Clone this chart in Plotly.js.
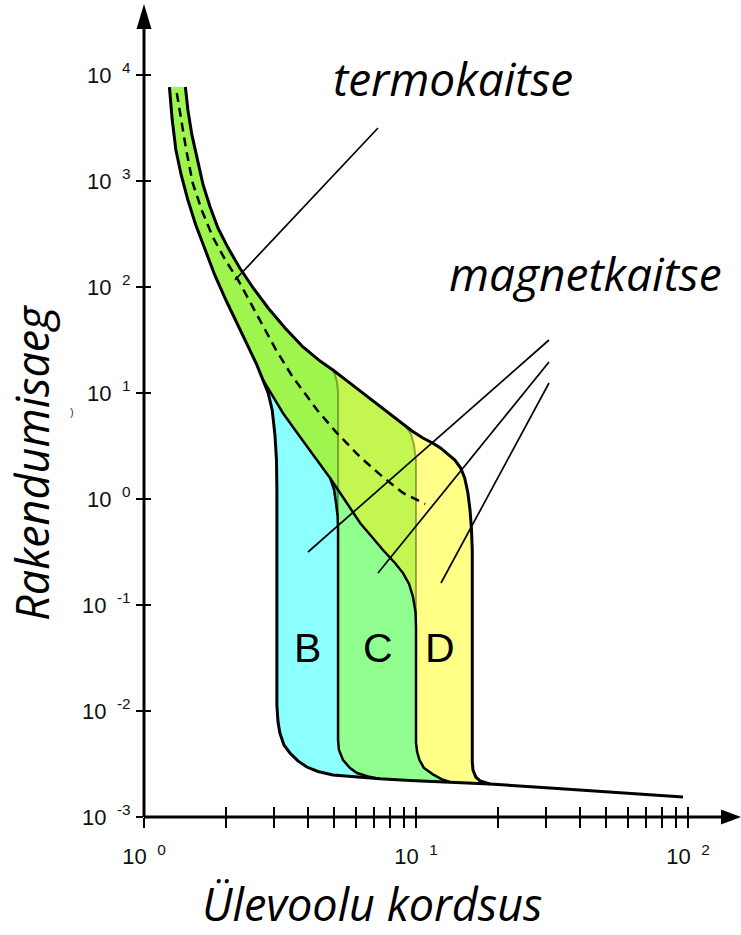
<!DOCTYPE html>
<html>
<head>
<meta charset="utf-8">
<script src="https://cdn.plot.ly/plotly-3.0.1.min.js"></script>
<style>
  html, body { margin: 0; padding: 0; background: #fff; }
  #chart { width: 741px; height: 935px; }
</style>
</head>
<body>
<div id="chart"></div>
<script>
// ---- Tripping characteristic data (overcurrent multiple I/In, time in seconds) ----

// Thermal release: lower limit of the band (shared part, from the top)
const thermLowX = [1.24, 1.27, 1.31, 1.37, 1.45, 1.55, 1.68, 1.82, 2.0, 2.22, 2.45, 2.6, 2.74];
const thermLowT = [7700, 3760, 1960, 1140, 662, 385, 223, 130, 75.4, 43.8, 25.4, 18.4, 13.3];

// Thermal release: upper limit of the band (shared part, from the top)
const thermHighX = [1.42, 1.45, 1.5, 1.57, 1.65, 1.75, 1.87, 2.04, 2.25, 2.52, 2.86, 3.3, 3.84, 4.44, 4.95, 5.72, 6.6, 7.56, 8.73, 9.67, 10.6, 11.5, 12.3];
const thermHighT = [7700, 4680, 2720, 1580, 916, 569, 360, 233, 151, 97.9, 63.4, 41.0, 27.2, 20.0, 16.5, 12.4, 9.37, 7.06, 5.33, 4.38, 3.76, 3.38, 3.03];

// Mean thermal characteristic (dashed)
const thermMidX = [1.32, 1.37, 1.43, 1.51, 1.63, 1.79, 1.99, 2.22, 2.45, 2.72, 3.06, 3.5, 4.33, 5.12, 6.23, 7.56, 8.96, 10.8];
const thermMidT = [6760, 3760, 1960, 957, 532, 296, 180, 116, 72.2, 43.8, 25.4, 14.5, 6.91, 4.19, 2.49, 1.61, 1.14, 0.897];

// Type B: lower limit branching off to the magnetic threshold
const bLowX = [2.86, 2.96, 3.03, 3.07, 3.08, 3.08, 3.11, 3.16, 3.27, 3.44, 3.68, 3.97, 4.36, 4.95];
const bLowT = [10.0, 6.91, 4.02, 2.33, 1.22, 0.0114, 0.00787, 0.0062, 0.00478, 0.00402, 0.00338, 0.00296, 0.00269, 0.00249];
// Type B: upper limit branching off to its magnetic threshold
const bHighX = [5.04, 5.12, 5.17, 5.17];
const bHighT = [14.8, 12.7, 10.2, 0.51];

// Type C: lower limit branching off the thermal lower limit
const cLowX = [5.0, 5.08, 5.15, 5.17, 5.17, 5.21, 5.39, 5.72, 6.07, 6.66, 7.37];
const cLowT = [1.22, 0.917, 0.691, 0.51, 0.00532, 0.00428, 0.00345, 0.0029, 0.0026, 0.00241, 0.00229];
// Type C: upper limit branching off the thermal upper limit
const cHighX = [9.19, 9.59, 9.83, 10.0, 10.0];
const cHighT = [4.78, 4.1, 3.23, 2.33, 0.0607];

// Type D: lower limit (continuation of the thermal lower limit)
const dLowX = [2.98, 3.24, 3.75, 4.33, 4.83, 5.39, 6.23, 6.89, 7.56, 8.37, 8.96, 9.43, 9.75, 9.96, 10.0, 10.0, 10.1, 10.3, 10.7, 11.5, 12.4, 13.3];
const dLowT = [9.17, 6.48, 3.85, 2.33, 1.58, 1.04, 0.594, 0.438, 0.33, 0.249, 0.2, 0.158, 0.119, 0.0859, 0.0607, 0.005, 0.0041, 0.00345, 0.0029, 0.00254, 0.00228, 0.00214];
// Type D: upper limit (continuation of the thermal upper limit)
const dHighX = [13.1, 13.9, 14.6, 15.1, 15.5, 15.8, 16.0, 16.1, 16.1, 16.2, 16.6, 17.2, 18.7];
const dHighT = [2.66, 2.33, 1.96, 1.58, 1.16, 0.788, 0.51, 0.33, 0.0033, 0.00277, 0.00238, 0.00219, 0.00205];

// Shortest breaking time, common to all types
const minTimeX = [4.95, 5.72, 7.37, 9.51, 13.3, 18.7, 31.1, 56.2, 95.9];
const minTimeT = [0.00249, 0.00241, 0.00229, 0.00221, 0.00214, 0.00205, 0.00188, 0.0017, 0.00154];

// Axis ticks and labels
const xMajorVals = [1, 10, 100];
const xMajorText = ['10\u2009 <sup>0</sup>', '10\u2009 <sup>1</sup>', '10\u2009 <sup>2</sup>'];
const xMinorVals = [2, 3, 4, 5, 6, 7, 8, 9, 20, 30, 40, 50, 60, 70, 80, 90];
const yTickVals = [0.001, 0.01, 0.1, 1, 10, 100, 1000, 10000];
const yTickText = ['10\u2009 <sup>-3</sup>', '10\u2009 <sup>-2</sup>', '10\u2009 <sup>-1</sup>', '10\u2009 <sup>0</sup>',
                   '10\u2009 <sup>1</sup>', '10\u2009 <sup>2</sup>', '10\u2009 <sup>3</sup>', '10\u2009 <sup>4</sup>'];

// Band labels
const bandNames = ['B', 'C', 'D'];

// ---- Curve helpers (work in log10 space; every curve runs from long to short times) ----
const LOG = Math.log10;
const pts = (xs, ts) => xs.map((x, i) => [LOG(x), LOG(ts[i])]);
const join = (head, tail) => head.filter(p => p[1] > tail[0][1]).concat(tail);
const extend = (curve, rest) => curve.concat(rest.filter(p => p[1] < curve[curve.length - 1][1]));
const anchored = (head, tail) => { const h = head.filter(p => p[1] > tail[0][1]); return [h[h.length - 1]].concat(tail); };
const toXY = c => ({ x: c.map(p => Math.pow(10, p[0])), y: c.map(p => Math.pow(10, p[1])) });

const lo = pts(thermLowX, thermLowT);
const hi = pts(thermHighX, thermHighT);
const floor = pts(minTimeX, minTimeT);

const BL = extend(join(lo, pts(bLowX, bLowT)), floor);
const DL = extend(join(lo, pts(dLowX, dLowT)), floor);
const CL = extend(join(join(lo, pts(dLowX, dLowT)), pts(cLowX, cLowT)), floor);
const DR = extend(join(hi, pts(dHighX, dHighT)), floor);
const BR = extend(join(hi, pts(bHighX, bHighT)), CL);
const CR = extend(join(hi, pts(cHighX, cHighT)), DL);

function xAt(c, lt) {
  if (lt > c[0][1] + 1e-6 || lt < c[c.length - 1][1] - 1e-6) return null;
  for (let i = 0; i < c.length - 1; i++) {
    const a = c[i], b = c[i + 1];
    if (lt <= a[1] + 1e-9 && lt >= b[1] - 1e-9) {
      const d = a[1] - b[1];
      const f = d === 0 ? 0 : (a[1] - lt) / d;
      return a[0] + f * (b[0] - a[0]);
    }
  }
  return c[c.length - 1][0];
}

// sampling levels in log time
const tTop = lo[0][1], tEnd = floor[floor.length - 1][1];
let grid = [];
for (let v = tTop; v > tEnd; v -= 0.004) grid.push(v);
[BL, CL, DL, BR, CR, DR].forEach(c => c.forEach(p => grid.push(p[1])));
grid.push(tEnd);
grid = Array.from(new Set(grid.map(v => Math.min(tTop, Math.max(tEnd, +v.toFixed(7)))))).sort((a, b) => b - a);

// area between the rightmost of `lefts` and the leftmost of `rights`
function region(lefts, rights) {
  const segs = []; let cur = null;
  grid.forEach(lt => {
    const ls = lefts.map(c => xAt(c, lt)), rs = rights.map(c => xAt(c, lt));
    if (ls.some(v => v === null) || rs.some(v => v === null)) { cur = null; return; }
    const L = Math.max(...ls), R = Math.min(...rs);
    if (R - L > 1e-5) {
      if (!cur) { cur = { l: [], r: [] }; segs.push(cur); }
      cur.l.push([L, lt]); cur.r.push([R, lt]);
    } else cur = null;
  });
  return segs.map(s => toXY(s.l.concat(s.r.slice().reverse())));
}

const traces = [];
function addFill(polys, color) {
  polys.forEach(p => traces.push({
    type: 'scatter', mode: 'none', x: p.x, y: p.y, fill: 'toself',
    fillcolor: color, hoverinfo: 'skip', showlegend: false
  }));
}
function addLine(c, color, width, dash) {
  const xy = toXY(c);
  traces.push({
    type: 'scatter', mode: 'lines', x: xy.x, y: xy.y,
    line: { color: color, width: width, dash: dash || 'solid' },
    hoverinfo: 'skip', showlegend: false
  });
}

// fills
addFill(region([BL], [DR]), '#9ef54e');                 // underlay
addFill(region([BL], [CL]), '#8cffff');                 // B only
addFill(region([CL], [BR, DL]), '#3fcf86');             // B and C overlap
addFill(region([CL, BR], [DL, CR]), '#90ff90');         // C only
addFill(region([DL, CR], [DR]), '#ffff88');             // D only
addFill(region([DL, BR], [CR]), '#c3f650');             // C and D overlap
addFill(region([DL], [BR]), '#9ef54e');                 // thermal band, all types

// outlines
const faint = 'rgba(45,55,0,0.42)';
addLine(anchored(hi, pts(bHighX, bHighT)), faint, 2);
addLine(anchored(hi, pts(cHighX, cHighT)), faint, 2);
addLine(anchored(join(lo, pts(dLowX, dLowT)), pts(cLowX, cLowT)), '#000', 2.5);
addLine(anchored(lo, pts(dLowX, dLowT)), '#000', 2.5);
addLine(join(hi, pts(dHighX, dHighT)), '#000', 3);
addLine(BL, '#000', 3);

// mean thermal curve on the overlay axes
const mid = toXY(pts(thermMidX, thermMidT));
traces.push({
  type: 'scatter', mode: 'lines', x: mid.x, y: mid.y, xaxis: 'x2', yaxis: 'y2',
  line: { color: '#000', width: 2.5, dash: '9px,6px' }, hoverinfo: 'skip', showlegend: false
});

// ---- Layout ----
const X0 = 144, Y0 = 817, W = 597, H = 812;
const pX = p => (p - X0) / W;
const pY = p => (Y0 - p) / H;
const xRange = [0, W / 272];
const yRange = [-3, -3 + H / 106];

const tickFont = { family: 'Liberation Sans, Arial, sans-serif', size: 22, color: '#111' };
const italic = { family: 'Open Sans, sans-serif', size: 46, color: '#000' };
const plain = { family: 'Liberation Sans, Arial, sans-serif', size: 41, color: '#000' };

function leader(x0, y0, x1, y1) {
  return { type: 'line', xref: 'paper', yref: 'paper', x0: pX(x0), y0: pY(y0), x1: pX(x1), y1: pY(y1),
           line: { color: '#000', width: 1.7 } };
}
function label(text, x, y, font, extra) {
  return Object.assign({ text: text, xref: 'paper', yref: 'paper', x: pX(x), y: pY(y),
    xanchor: 'center', yanchor: 'middle', showarrow: false, font: font }, extra || {});
}

const layout = {
  width: 741, height: 935,
  margin: { l: X0, r: 741 - X0 - W, t: 5, b: 935 - Y0, pad: 0 },
  paper_bgcolor: '#fff', plot_bgcolor: 'rgba(0,0,0,0)',
  showlegend: false,
  xaxis: {
    type: 'log', range: xRange, tickmode: 'array', tickvals: xMajorVals, ticktext: xMajorText,
    ticks: 'outside', ticklen: 10, tickwidth: 2, tickcolor: '#000',
    minor: { tickmode: 'array', tickvals: xMinorVals, ticks: 'outside', ticklen: 10, tickwidth: 2, tickcolor: '#000', showgrid: false },
    showline: false, showgrid: false, zeroline: false, tickfont: tickFont,
    ticklabelstandoff: 10, fixedrange: true
  },
  yaxis: {
    type: 'log', range: yRange, tickmode: 'array', tickvals: yTickVals, ticktext: yTickText,
    ticks: 'outside', ticklen: 7, tickwidth: 2, tickcolor: '#000',
    showline: false, showgrid: false, zeroline: false, tickfont: tickFont,
    ticklabelstandoff: 1, fixedrange: true
  },
  xaxis2: {
    type: 'log', range: xRange, overlaying: 'x', anchor: 'y2', tickmode: 'array', tickvals: xMajorVals.concat(xMinorVals),
    ticks: 'inside', ticklen: 10, tickwidth: 2, tickcolor: '#000', showticklabels: false,
    showline: false, showgrid: false, zeroline: false, fixedrange: true
  },
  yaxis2: {
    type: 'log', range: yRange, overlaying: 'y', anchor: 'x2', side: 'left', tickmode: 'array', tickvals: yTickVals,
    ticks: 'inside', ticklen: 7, tickwidth: 2, tickcolor: '#000', showticklabels: false,
    showline: false, showgrid: false, zeroline: false, fixedrange: true
  },
  shapes: [
    { type: 'line', xref: 'paper', yref: 'paper', x0: 0, y0: 0, x1: pX(724), y1: 0, line: { color: '#000', width: 3 } },
    { type: 'line', xref: 'paper', yref: 'paper', x0: 0, y0: 0, x1: 0, y1: pY(26), line: { color: '#000', width: 3 } },
    { type: 'path', xref: 'paper', yref: 'paper', fillcolor: '#000', line: { width: 0 },
      path: `M ${pX(741)},0 L ${pX(721)},${pY(809.5)} L ${pX(721)},${pY(824.5)} Z` },
    { type: 'path', xref: 'paper', yref: 'paper', fillcolor: '#000', line: { width: 0 },
      path: `M 0,${pY(4)} L ${pX(136.5)},${pY(29)} L ${pX(151.5)},${pY(29)} Z` },
    leader(378, 128, 235, 280),
    leader(549, 340, 308, 552),
    leader(549, 362, 378, 573),
    leader(549, 383, 441, 583)
  ],
  annotations: [
    label('<i>termokaitse</i>', 453, 78, italic),
    label('<i>magnetkaitse</i>', 585, 273, italic),
    label(bandNames[0], 307, 648, plain),
    label(bandNames[1], 378, 648, plain),
    label(bandNames[2], 440, 648, plain),
    label('<i>Ülevoolu kordsus</i>', 372, 903, Object.assign({}, italic, { size: 45 })),
    label('<i>Rakendumisaeg</i>', 31, 463, Object.assign({}, italic, { size: 45 }), { textangle: -90 }),
    label(')', 72, 412, { family: 'Liberation Sans, Arial, sans-serif', size: 11, color: '#1c3c8c' })
  ]
};

Plotly.newPlot('chart', traces, layout, { displayModeBar: false, staticPlot: true });
</script>
</body>
</html>
